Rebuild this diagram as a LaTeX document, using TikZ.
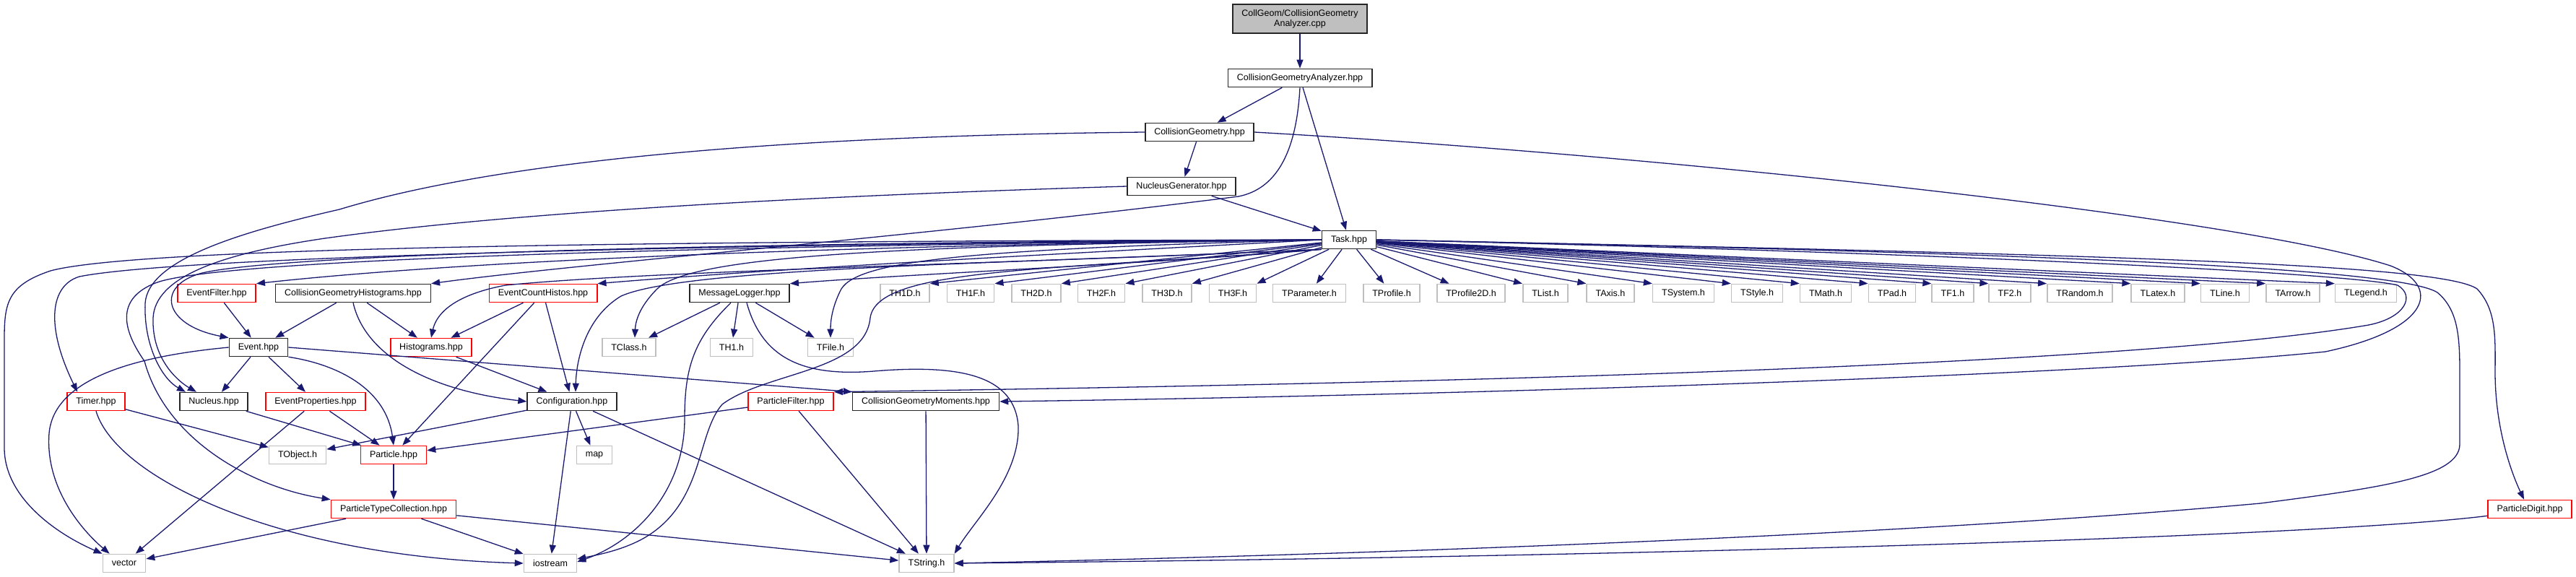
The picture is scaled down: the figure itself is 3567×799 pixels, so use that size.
\documentclass[tikz,border=0pt]{standalone}
\usepackage{fontspec}
\setmainfont{Liberation Sans}
\usepackage{xcolor}
\usetikzlibrary{arrows.meta}
\definecolor{edgeblue}{HTML}{191970}
\definecolor{sysgray}{HTML}{BFBFBF}
\newcommand{\dxfont}{\fontsize{12.5pt}{14pt}\selectfont}
\tikzset{
  incbox/.style={rectangle, draw=#1, fill=white, line width=1.6pt,
                 font=\dxfont, text=black, inner xsep=12.5pt, inner ysep=0pt,
                 minimum height=25pt, align=center},
  incbox/.default=black!85,
  rootbox/.style={incbox, fill=sysgray, minimum height=40pt},
  arr/.style={-{Triangle[length=12pt,width=9pt]}, line width=1.3pt, edgeblue},
}

\begin{document}
\begin{tikzpicture}[x=1pt, y=-1pt]
  \useasboundingbox (0,0) rectangle (3567,799);
  %% Top chain
  \node[rootbox] (root) at (1800,26) {CollGeom/CollisionGeometry\\Analyzer.cpp};
  \node[incbox] (cga)  at (1800,108) {CollisionGeometryAnalyzer.hpp};
  \node[incbox] (cg)   at (1661,183) {CollisionGeometry.hpp};
  \node[incbox] (ng)   at (1636,258) {NucleusGenerator.hpp};
  \node[incbox] (task) at (1868,332) {Task.hpp};
  %% Row under Task
  \node[incbox=red] (efilt) at (300,406)  {EventFilter.hpp};
  \node[incbox]     (cgh)   at (489,406)  {CollisionGeometryHistograms.hpp};
  \node[incbox=red] (ech)   at (752,406)  {EventCountHistos.hpp};
  \node[incbox]     (mlog)  at (1024,406) {MessageLogger.hpp};
  \foreach \n/\x/\t in {th1d/1253/TH1D.h, th1f/1344/TH1F.h, th2d/1435/TH2D.h,
      th2f/1525/TH2F.h, th3d/1616/TH3D.h, th3f/1707/TH3F.h,
      tparam/1813/TParameter.h, tprof/1927/TProfile.h, tprofb/2037/TProfile2D.h,
      tlist/2140/TList.h, taxis/2230/TAxis.h, tsys/2331/TSystem.h,
      tstyle/2433/TStyle.h, tmath/2528/TMath.h, tpad/2620/TPad.h,
      tfa/2704/TF1.h, tfb/2783/TF2.h, trandom/2880/TRandom.h,
      tlatex/2988/TLatex.h, tline/3081/TLine.h, tarrow/3175/TArrow.h,
      tlegend/3276/TLegend.h}
    \node[incbox=sysgray] (\n) at (\x,406) {\t};
  %% Middle rows
  \node[incbox]         (event)  at (358,481)  {Event.hpp};
  \node[incbox=red]     (histo)  at (597,481)  {Histograms.hpp};
  \node[incbox=sysgray] (tclass) at (871,481)  {TClass.h};
  \node[incbox=sysgray] (th1)    at (1013,481) {TH1.h};
  \node[incbox=sysgray] (tfile)  at (1150,481) {TFile.h};
  \node[incbox=red]     (timer)   at (133,556)  {Timer.hpp};
  \node[incbox]         (nucleus) at (296,556)  {Nucleus.hpp};
  \node[incbox=red]     (evprop)  at (437,556)  {EventProperties.hpp};
  \node[incbox]         (config)  at (792,556)  {Configuration.hpp};
  \node[incbox=red]     (pfilt)   at (1095,556) {ParticleFilter.hpp};
  \node[incbox]         (cgmom)   at (1282,556) {CollisionGeometryMoments.hpp};
  \node[incbox=sysgray] (tobject)  at (412,630) {TObject.h};
  \node[incbox=red]     (particle) at (545,630) {Particle.hpp};
  \node[incbox=sysgray] (map)      at (823,630) {map};
  \node[incbox=red]     (ptc)    at (545,705)  {ParticleTypeCollection.hpp};
  \node[incbox=red]     (pdigit) at (3503,705) {ParticleDigit.hpp};
  %% Bottom row
  \node[incbox=sysgray] (vector)   at (172,780)  {vector};
  \node[incbox=sysgray] (iostream) at (762,780)  {iostream};
  \node[incbox=sysgray] (tstring)  at (1283,780) {TString.h};

  %% Straight includes
  \foreach \a/\b in {root/cga, cga/cg, cga/task, cg/ng, ng/task,
      cgh/event, cgh/histo, efilt/event, ech/histo, ech/config, ech/particle,
      histo/config, mlog/tclass, mlog/th1, mlog/tfile, event/nucleus,
      event/evprop, timer/tobject, nucleus/particle, evprop/particle,
      evprop/vector, config/tobject, config/map, config/iostream,
      config/tstring, pfilt/particle, pfilt/tstring, cgmom/tstring,
      particle/ptc, ptc/vector, ptc/iostream, ptc/tstring}
    \draw[arr] (\a) -- (\b);
  \draw[arr] (event.east) -- (cgmom.north west);
  %% Task fan-out to ROOT headers
  \foreach \t in {th1d,th1f,th2d,th2f,th3d,th3f}
    \draw[arr] (task) -- (\t.north east);
  \foreach \t in {tparam,tprof,tprofb}
    \draw[arr] (task) -- (\t);
  \foreach \t in {tlist,taxis,tsys,tstyle,tmath,tpad,tfa,tfb,trandom,tlatex,
      tline,tarrow,tlegend}
    \draw[arr] (task) -- (\t.north west);

  %% Long routes on the right
  \draw[arr] (cg.east) .. controls (2300,215) and (3100,300) .. (3310,368)
    .. controls (3380,395) and (3370,455) .. (3220,487)
    .. controls (2900,520) and (2000,548) .. (cgmom.east);
  \draw[arr] (task.east) .. controls (2700,350) and (3250,378) .. (3320,395)
    .. controls (3345,410) and (3330,440) .. (3280,450)
    .. controls (2900,515) and (1700,535) .. (pfilt.north east);
  \draw[arr] (task.east) .. controls (2900,352) and (3380,365) .. (3430,400)
    .. controls (3458,430) and (3455,470) .. (3455,520)
    .. controls (3456,600) and (3480,660) .. ([xshift=-8pt]pdigit.north);
  \draw[arr] (task.east) .. controls (2800,350) and (3320,370) .. (3375,405)
    .. controls (3405,430) and (3406,470) .. (3406,520) -- (3406,615)
    .. controls (3406,660) and (3300,675) .. (3130,697)
    .. controls (2600,745) and (1800,770) .. (tstring.east);
  \draw[arr] ([yshift=4pt]pdigit.south west) .. controls (3200,745) and (2200,772)
    .. (tstring.east);

  %% Long routes on the left
  \draw[arr] (cga.south) .. controls (1795,215) and (1765,262) .. (1715,272)
    .. controls (1300,325) and (800,365) .. (cgh.north east);
  \draw[arr] (cg.west) .. controls (1100,188) and (700,220) .. (470,290)
    .. controls (330,322) and (205,360) .. (201,420)
    .. controls (199,480) and (225,525) .. ([xshift=9pt]nucleus.north west);
  \draw[arr] (ng.west) .. controls (1100,272) and (700,295) .. (450,330)
    .. controls (300,352) and (215,385) .. (212,440)
    .. controls (210,500) and (250,530) .. ([xshift=24pt]nucleus.north west);
  \draw[arr] (task.south west) .. controls (1600,365) and (1250,380) .. (mlog.north east);
  \draw[arr] (task.west) .. controls (1500,350) and (1100,370) .. (ech.north east);
  \draw[arr] (task.south west) .. controls (1400,365) and (900,375) .. (700,395)
    .. controls (620,410) and (603,440) .. (histo.north);
  \draw[arr] (task.south west) .. controls (1400,365) and (950,370) .. (860,410)
    .. controls (810,440) and (798,500) .. ([xshift=5pt]config.north);
  \draw[arr] (task.west) .. controls (1300,340) and (960,350) .. (910,400)
    .. controls (885,425) and (880,445) .. ([xshift=8pt]tclass.north);
  \draw[arr] (task.west) .. controls (1350,345) and (1190,360) .. (1165,400)
    .. controls (1152,425) and (1150,445) .. (tfile.north);
  \draw[arr] (task.south west) .. controls (1450,375) and (1215,370) .. (1205,440)
    .. controls (1198,515) and (1060,515) .. (1000,560)
    .. controls (965,600) and (975,690) .. (900,740)
    .. controls (870,760) and (830,768) .. ([yshift=6pt]iostream.east);
  \draw[arr] ([xshift=-12pt]mlog.south) .. controls (960,470) and (948,510) .. (948,580)
    .. controls (948,680) and (880,750) .. ([yshift=2pt]iostream.east);
  \draw[arr] ([xshift=10pt]mlog.south) .. controls (1055,495) and (1110,522) .. (1210,514)
    .. controls (1330,504) and (1405,520) .. (1410,590)
    .. controls (1412,660) and (1350,720) .. (tstring.north east);
  \draw[arr] (task.west) .. controls (1300,338) and (700,355) .. (efilt.north east);
  \draw[arr] (task.west) .. controls (1100,335) and (400,350) .. (280,378)
    .. controls (215,395) and (225,450) .. (event.north west);
  \draw[arr] (task.west) .. controls (1000,338) and (250,355) .. (110,383)
    .. controls (70,395) and (62,450) .. ([xshift=15pt]timer.north west);
  \draw[arr] (task.west) .. controls (1000,334) and (200,340) .. (70,375)
    .. controls (10,395) and (6,420) .. (6,470) -- (6,620)
    .. controls (6,690) and (80,740) .. (vector.north west);
  \draw[arr] (task.west) .. controls (1000,340) and (300,358) .. (215,392)
    .. controls (165,412) and (165,450) .. (200,500)
    .. controls (230,610) and (350,675) .. (ptc.north west);
  \draw[arr] (event.south east) .. controls (470,505) and (535,540) .. (particle.north);
  \draw[arr] (event.west) .. controls (200,492) and (75,520) .. (68,600)
    .. controls (62,680) and (120,740) .. ([xshift=10pt]vector.north west);
  \draw[arr] (timer.south) .. controls (160,660) and (380,770) .. (iostream.west);
  \draw[arr] (cgh.south) .. controls (505,490) and (590,540) .. (config.west);
\end{tikzpicture}
\end{document}
